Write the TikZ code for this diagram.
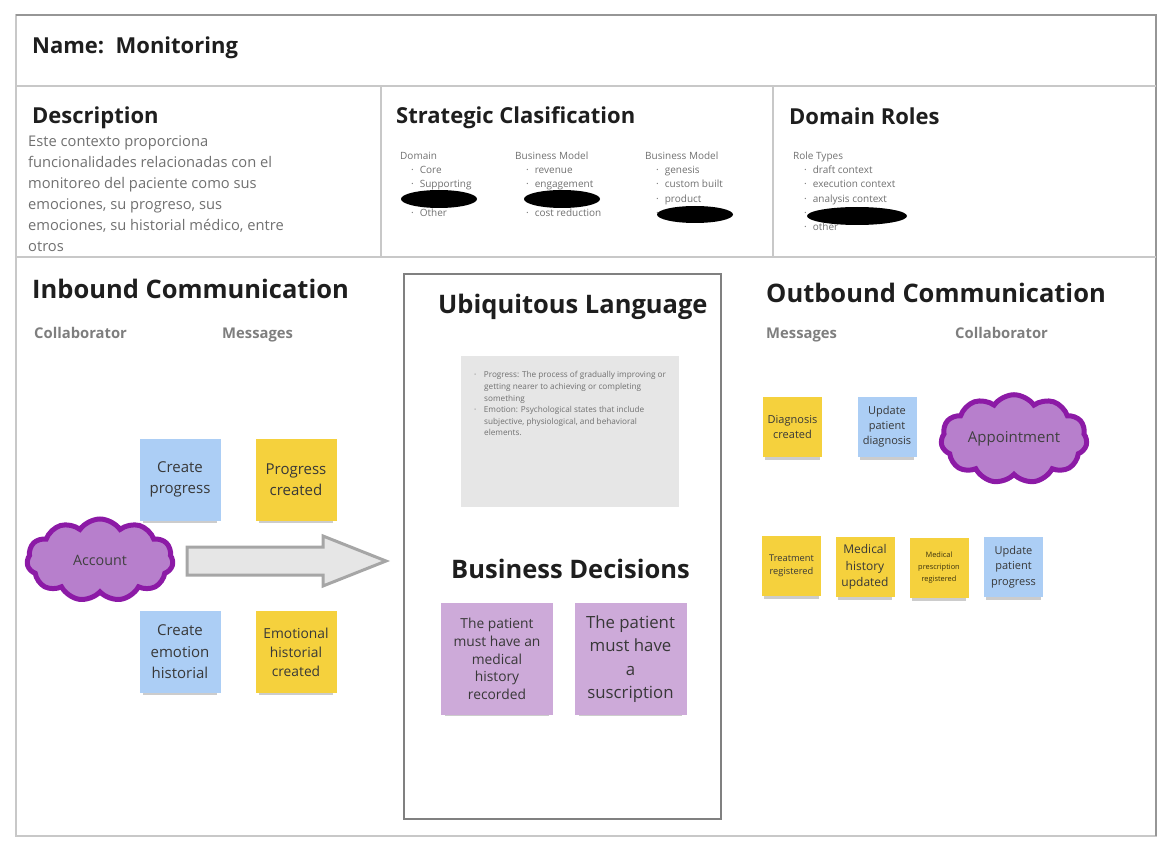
\documentclass[tikz,border=0pt]{standalone}
\usepackage{fontspec}
\setmainfont{Open Sans}
\usetikzlibrary{shapes.geometric,shapes.symbols,shadows}
\definecolor{framegray}{RGB}{200,200,200}
\definecolor{edgegray}{RGB}{150,150,150}
\definecolor{titlegray}{RGB}{30,30,30}
\definecolor{bodygray}{RGB}{112,112,112}
\definecolor{stickyyellow}{RGB}{245,209,61}
\definecolor{stickyblue}{RGB}{172,206,245}
\definecolor{stickypurple}{RGB}{205,170,217}
\definecolor{cloudfill}{RGB}{183,127,204}
\definecolor{cloudline}{RGB}{140,26,166}
\definecolor{ulgray}{RGB}{230,230,230}
\newcommand{\litem}[1]{\hspace*{11pt}\textperiodcentered\hspace{6pt}#1}
\newcommand{\fs}[2]{\fontsize{#1}{#2}\selectfont}
\begin{document}
\begin{tikzpicture}[x=1pt,y=-1pt,every node/.style={inner sep=0pt},
  frame/.style={draw=framegray,line width=1.3pt},
  title/.style={anchor=base west,font=\fs{22}{26}\bfseries,text=titlegray},
  bigtitle/.style={anchor=base west,font=\fs{25.5}{30}\bfseries,text=titlegray},
  colhead/.style={anchor=base west,font=\fs{14.8}{18}\bfseries,text=bodygray!90},
  smalllist/.style={anchor=north west,align=left,font=\fs{10}{14.3},text=bodygray},
  redact/.style={ellipse,fill=black,minimum width=76pt,minimum height=18pt},
  sticky/.style={rectangle,align=center,text=black!78,minimum width=81pt,minimum height=82pt,
    drop shadow={shadow xshift=0pt,shadow yshift=-6pt,shadow scale=0.92,opacity=0.4}},
  smallsticky/.style={sticky,minimum width=59pt,minimum height=60pt},
  bigsticky/.style={sticky,fill=stickypurple,minimum width=112pt,minimum height=112pt},
  context/.style={cloud,cloud puffs=11,cloud puff arc=110,aspect=1.8,fill=cloudfill,
    draw=cloudline,line width=5pt,minimum width=146pt,minimum height=82pt,text=black!75}]
  \useasboundingbox (0,0) rectangle (1171,853);
  % canvas frame
  \draw[frame] (16,15) rectangle (1156,836);
  \draw[draw=edgegray,line width=1.3pt] (16,15) -- (1156,15) -- (1156,836);
  \draw[frame] (16,86) -- (1156,86) (16,257) -- (1156,257)
    (381,86) -- (381,257) (773,86) -- (773,257);
  % name and top row
  \node[title] (name) at (32,54) {Name:\ \ Monitoring};
  \node[title] (desc) at (32,124) {Description};
  \node[anchor=north west,align=left,font=\fs{14.7}{21},text=bodygray] (desctext) at (28,136)
    {Este contexto proporciona\\funcionalidades relacionadas con el\\monitoreo del paciente como sus\\emociones, su progreso, sus\\emociones, su historial médico, entre\\otros};
  \node[title] (strat) at (396,124) {Strategic Clasification};
  \node[smalllist] (domain) at (400,151.5) {Domain\\\litem{Core}\\\litem{Supporting}\\\litem{}\\\litem{Other}};
  \node[smalllist] (model) at (515,151.5) {Business Model\\\litem{revenue}\\\litem{engagement}\\\litem{}\\\litem{cost reduction}};
  \node[smalllist] (evolution) at (645,151.5) {Business Model\\\litem{genesis}\\\litem{custom built}\\\litem{product}\\\litem{}};
  \node[title] (roles) at (789,124.5) {Domain Roles};
  \node[smalllist] (roletypes) at (793,151.5) {Role Types\\\litem{draft context}\\\litem{execution context}\\\litem{analysis context}\\\litem{}\\\litem{other}};
  \node[redact] (redact1) at (439,199) {};
  \node[redact] (redact2) at (562,199) {};
  \node[redact,minimum height=17pt] (redact3) at (695,214.5) {};
  \node[redact,minimum width=100pt] (redact4) at (857,216) {};
  % inbound
  \node[bigtitle] (inbound) at (32,298.5) {Inbound Communication};
  \node[colhead] (incollab) at (34,338) {Collaborator};
  \node[colhead] (inmsg) at (222,338) {Messages};
  \node[sticky,fill=stickyblue,font=\fs{15}{21}] (createprog) at (180,479.5) {Create\\progress};
  \node[sticky,fill=stickyyellow,font=\fs{15}{21}] (progcreated) at (296,479.5) {Progress\\created};
  \node[sticky,fill=stickyblue,font=\fs{15}{21.5}] (createemo) at (180,652) {Create\\emotion\\historial};
  \node[sticky,fill=stickyyellow,font=\fs{13.8}{19}] (emocreated) at (296,652) {Emotional\\historial\\created};
  \node[context,font=\fs{14.3}{17}] (account) at (100,560) {Account};
  \draw[fill=ulgray,draw=black!35,line width=3pt,line join=miter]
    (187,547) -- (323,547) -- (323,536) -- (386,561) -- (323,586) -- (323,575) -- (187,575) -- cycle;
  % ubiquitous language
  \draw[draw=black!50,line width=1.3pt] (404,274) rectangle (721,819);
  \node[bigtitle] (ubiq) at (438,313) {Ubiquitous Language};
  \node[fill=ulgray,minimum width=218pt,minimum height=151pt] (ulbox) at (570,431.5) {};
  \node[anchor=north west,align=left,font=\fs{8.2}{11.6},text=bodygray] (ulterms) at (474,371.5)
    {\textperiodcentered\hspace{7.5pt}Progress: The process of gradually improving or\\
     \hspace*{10pt}getting nearer to achieving or completing\\
     \hspace*{10pt}something\\
     \textperiodcentered\hspace{7.5pt}Emotion: Psychological states that include\\
     \hspace*{10pt}subjective, physiological, and behavioral\\
     \hspace*{10pt}elements.};
  \node[bigtitle] (decisions) at (451,578) {Business Decisions};
  \node[bigsticky,font=\fs{13.8}{17.8}] (rule1) at (497,659) {The patient\\must have an\\medical\\history\\recorded};
  \node[bigsticky,font=\fs{16.8}{23.3}] (rule2) at (630.5,659) {The patient\\must have\\a\\suscription};
  % outbound
  \node[bigtitle] (outbound) at (766,302.5) {Outbound Communication};
  \node[colhead] (outmsg) at (766,338) {Messages};
  \node[colhead] (outcollab) at (955,338) {Collaborator};
  \node[smallsticky,fill=stickyyellow,font=\fs{11}{15}] (diagcreated) at (792.5,427) {Diagnosis\\created};
  \node[smallsticky,fill=stickyblue,font=\fs{11}{15}] (updatediag) at (887,427) {Update\\patient\\diagnosis};
  \node[context,font=\fs{15}{18}] (appointment) at (1014,439) {Appointment};
  \node[smallsticky,fill=stickyyellow,font=\fs{9.3}{13}] (treatment) at (791.5,565.5) {Treatment\\registered};
  \node[smallsticky,fill=stickyyellow,font=\fs{12}{16.5}] (historyupd) at (865,567) {Medical\\history\\updated};
  \node[smallsticky,fill=stickyyellow,font=\fs{7.4}{12},text=black!60!stickyyellow!60!black] (prescription) at (939,567.5) {Medical\\prescription\\registered};
  \node[smallsticky,fill=stickyblue,font=\fs{11}{15.5}] (updateprog) at (1013.5,567) {Update\\patient\\progress};
\end{tikzpicture}
\end{document}
